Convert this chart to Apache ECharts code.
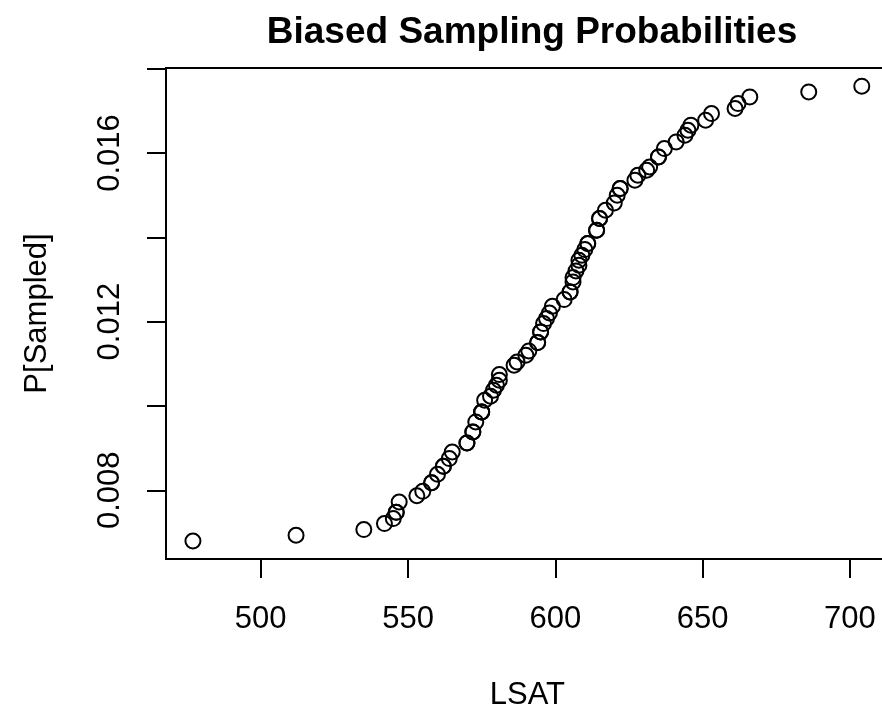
<!DOCTYPE html>
<html>
<head>
<meta charset="utf-8">
<script src="https://cdn.jsdelivr.net/npm/echarts@6/dist/echarts.min.js"></script>
<style>
html,body{margin:0;padding:0;background:#fff;}
#chart{width:882px;height:707px;}
</style>
</head>
<body>
<div id="chart"></div>
<script>
// LSAT scores (x) and biased sampling probabilities (y)
const lsat = [477,512,535,542,545,546,546,547,553,555,558,558,560,562,562,564,565,570,570,572,572,573,575,575,575,576,578,579,580,581,581,586,587,590,591,594,594,595,595,596,597,598,599,603,605,605,606,606,607,608,608,609,610,611,611,614,614,615,615,617,620,621,622,622,627,628,631,632,635,635,637,641,644,645,646,651,653,661,662,666,686,704];
const pSampled = [0.006797,0.006933,0.007068,0.007210,0.007329,0.007478,0.007478,0.007722,0.007870,0.007976,0.008178,0.008178,0.008380,0.008569,0.008569,0.008752,0.008908,0.009122,0.009122,0.009383,0.009383,0.009620,0.009857,0.009857,0.009857,0.010135,0.010230,0.010372,0.010491,0.010609,0.010744,0.010965,0.011043,0.011202,0.011304,0.011503,0.011503,0.011755,0.011755,0.011954,0.012073,0.012205,0.012364,0.012523,0.012704,0.012704,0.012941,0.013045,0.013202,0.013337,0.013455,0.013574,0.013709,0.013852,0.013852,0.014167,0.014167,0.014445,0.014445,0.014641,0.014815,0.014997,0.015156,0.015156,0.015353,0.015472,0.015590,0.015668,0.015906,0.015906,0.016105,0.016261,0.016420,0.016539,0.016658,0.016776,0.016935,0.017054,0.017172,0.017329,0.017447,0.017583];
const xTicks = [500,550,600,650,700];
const yTicks = [0.008,0.010,0.012,0.014,0.016,0.018];
const yTickLabels = [0.008,0.012,0.016];

const title = 'Biased Sampling Probabilities';
const xName = 'LSAT';
const yName = 'P[Sampled]';

const FONT = '"Liberation Sans", Arial, Helvetica, sans-serif';
const chart = echarts.init(document.getElementById('chart'), null, {renderer:'canvas'});
const points = lsat.map((v,i)=>[v,pSampled[i]]);

chart.setOption({
  animation:false,
  backgroundColor:'#fff',
  title:{
    text:title,
    left:527, textAlign:'center', top:9,
    textStyle:{fontFamily:FONT,fontSize:37,fontWeight:'bold',color:'#000'}
  },
  grid:{left:166, top:68, width:722.7, height:491, show:true, borderColor:'#000', borderWidth:2,
    backgroundColor:'transparent', containLabel:false, outerBoundsMode:'none'},
  xAxis:{
    type:'value', min:467.86, max:713.14,
    name:xName, nameLocation:'middle', nameGap:121,
    nameTextStyle:{fontFamily:FONT,fontSize:31,color:'#000'},
    axisLine:{show:true,onZero:false,lineStyle:{color:'#000',width:2}},
    axisTick:{show:true,length:19,customValues:xTicks,lineStyle:{color:'#000',width:2}},
    axisLabel:{show:true,margin:45,customValues:xTicks,fontFamily:FONT,fontSize:31,color:'#000',
      formatter:v=>String(Math.round(v))},
    splitLine:{show:false}
  },
  yAxis:{
    type:'value', min:0.00637, max:0.018015,
    name:yName, nameLocation:'middle', nameGap:113, nameRotate:90,
    nameTextStyle:{fontFamily:FONT,fontSize:31,color:'#000'},
    axisLine:{show:true,onZero:false,lineStyle:{color:'#000',width:2}},
    axisTick:{show:true,length:19,customValues:yTicks,lineStyle:{color:'#000',width:2}},
    axisLabel:{show:true,margin:40,rotate:90,customValues:yTickLabels,fontFamily:FONT,fontSize:31,color:'#000',
      formatter:v=>v.toFixed(3)},
    splitLine:{show:false}
  },
  series:[{
    type:'scatter',
    data:points,
    symbol:'circle',
    symbolSize:15,
    itemStyle:{color:'transparent',borderColor:'#000',borderWidth:2,opacity:1},
    emphasis:{disabled:true},
    silent:true
  }]
});
</script>
</body>
</html>
